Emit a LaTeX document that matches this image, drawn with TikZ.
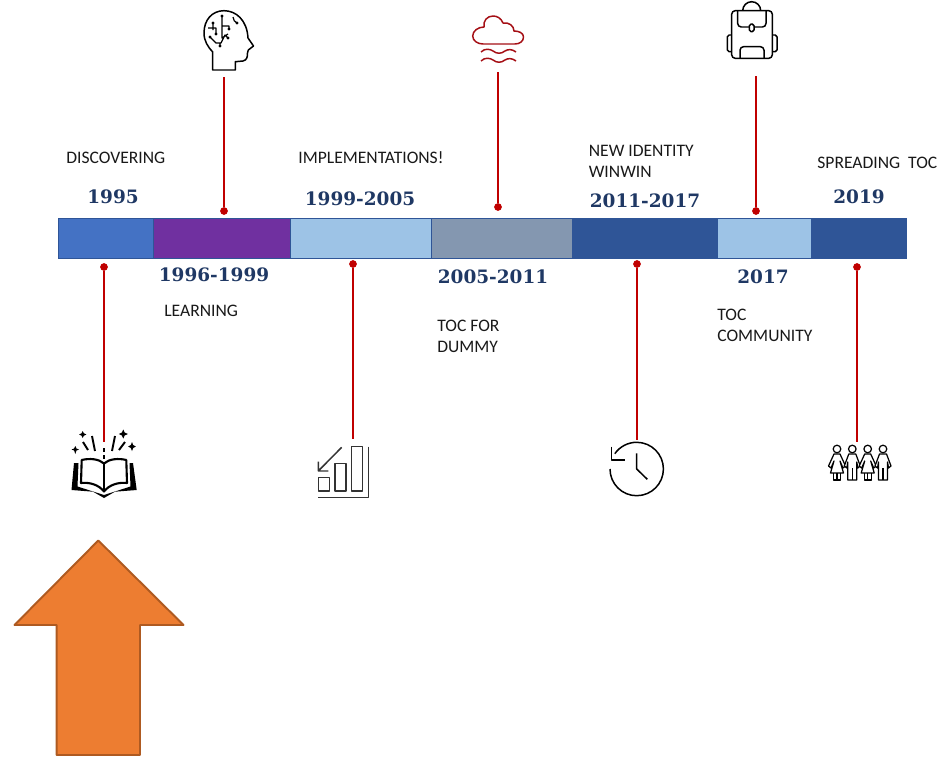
\documentclass[tikz,border=0pt]{standalone}
\usepackage{fontspec}
\setmainfont{Carlito}
\newfontfamily\yearfont{DejaVu Serif}[BoldFont={DejaVu Serif Bold}]
\definecolor{barblue}{HTML}{4472C4}
\definecolor{barpurple}{HTML}{7030A0}
\definecolor{barlight}{HTML}{9DC3E6}
\definecolor{bargrey}{HTML}{8497B0}
\definecolor{bardark}{HTML}{2F5597}
\definecolor{yearblue}{HTML}{1F3864}
\definecolor{linered}{HTML}{C00000}
\definecolor{cloudred}{HTML}{A50F15}
\definecolor{arroworange}{HTML}{ED7D31}
\definecolor{arrowedge}{HTML}{AE5A21}
\tikzset{
  segment/.style={draw=bardark,line width=0.4pt},
  year/.style={font=\yearfont\bfseries\fontsize{10.5}{12}\selectfont,text=yearblue,anchor=center},
  label/.style={font=\fontsize{10}{11.9}\selectfont,text=black!90,anchor=west,align=left},
  dot/.style={circle,fill=linered,minimum size=4.4pt},
  stem/.style={draw=linered,line width=1.5pt},
  icon/.style={draw=black,line width=0.85pt,line join=round},
  woman/.pic={
    \draw [icon,line width=0.7pt] (0,-449) circle (3.8);
    \draw [icon,line width=0.7pt,fill=white] (-3,-454) -- (3,-454) -- (8.5,-466) -- (6,-468) -- (3,-461) -- (6.5,-473) -- (-6.5,-473) -- (-3,-461) -- (-6,-468) -- (-8.5,-466) -- cycle;
    \draw [icon,line width=0.7pt] (-3.5,-473) -- (-3.5,-480) -- (3.5,-480) -- (3.5,-473) (0,-473) -- (0,-480);
  },
  man/.pic={
    \draw [icon,line width=0.7pt] (0,-449) circle (3.8);
    \draw [icon,line width=0.7pt,fill=white] (-3.5,-454) -- (3.5,-454) -- (8,-466) -- (5.5,-468) -- (4.5,-462) -- (4.5,-480) -- (-4.5,-480) -- (-4.5,-462) -- (-5.5,-468) -- (-8,-466) -- cycle;
    \draw [icon,line width=0.7pt] (0,-468) -- (0,-480);
  }
}
\begin{document}
\begin{tikzpicture}[x=0.02cm,y=0.02cm]
                      \tikzstyle{every node}+=[inner sep=0pt]
                      \useasboundingbox (0,0) rectangle (948,-764);
                      % bar
                      \draw [segment,fill=barblue] (58,-218) rectangle (153,-258);
                      \draw [segment,fill=barpurple] (153,-218) rectangle (290,-258);
                      \draw [segment,fill=barlight] (290,-218) rectangle (431,-258);
                      \draw [segment,fill=bargrey] (431,-218) rectangle (572,-258);
                      \draw [segment,fill=bardark] (572,-218) rectangle (717,-258);
                      \draw [segment,fill=barlight] (717,-218) rectangle (811,-258);
                      \draw [segment,fill=bardark] (811,-218) rectangle (906,-258);
                      % years
                      \node [year] (y1995) at (113,-197) {1995};
                      \node [year] (y1996) at (214,-275) {1996-1999};
                      \node [year] (y1999) at (360,-199) {1999-2005};
                      \node [year] (y2005) at (493,-277) {2005-2011};
                      \node [year] (y2011) at (645,-201) {2011-2017};
                      \node [year] (y2017) at (763,-277) {2017};
                      \node [year] (y2019) at (859,-197) {2019};
                      % labels
                      \node [label] (discovering) at (66,-157.5) {DISCOVERING};
                      \node [label] (learning) at (164,-311) {LEARNING};
                      \node [label] (implementations) at (298,-157.5) {IMPLEMENTATIONS!};
                      \node [label] (dummy) at (437,-336.5) {TOC FOR\\DUMMY};
                      \node [label] (identity) at (588.5,-161.5) {NEW IDENTITY\\WINWIN};
                      \node [label] (community) at (717,-325.5) {TOC\\COMMUNITY};
                      \node [label] (spreading) at (817,-163) {SPREADING\ \ TOC};
                      % stems
                      \node [dot] (dotbook) at (104,-267) {};
                      \node [dot] (dothead) at (224,-211) {};
                      \node [dot] (dotchart) at (353,-264) {};
                      \node [dot] (dotcloud) at (498,-207) {};
                      \node [dot] (dotclock) at (637,-264) {};
                      \node [dot] (dotbag) at (756,-211) {};
                      \node [dot] (dotpeople) at (857,-267) {};
                      \coordinate (endbook) at (104,-442);
                      \coordinate (endhead) at (224,-77);
                      \coordinate (endchart) at (353,-439);
                      \coordinate (endcloud) at (498,-72);
                      \coordinate (endclock) at (637,-440);
                      \coordinate (endbag) at (756,-76);
                      \coordinate (endpeople) at (857,-442);
                      \draw [stem] (dotbook) -- (endbook);
                      \draw [stem] (dothead) -- (endhead);
                      \draw [stem] (dotchart) -- (endchart);
                      \draw [stem] (dotcloud) -- (endcloud);
                      \draw [stem] (dotclock) -- (endclock);
                      \draw [stem] (dotbag) -- (endbag);
                      \draw [stem] (dotpeople) -- (endpeople);
                      % head
                      \draw [icon] (212.7,-70) -- (235.3,-70) -- (235.3,-61.7) -- (243,-61) .. controls (247,-60) and (247.5,-57) .. (247.5,-53) -- (248.3,-50) -- (253.5,-46) -- (248,-38) .. controls (247,-20) and (236,-10.7) .. (224,-10.7) .. controls (212,-10.7) and (204,-20) .. (204,-33) .. controls (204,-41) and (208,-47) .. (212.7,-52) -- cycle;
                      \draw [icon,line width=0.7pt] (222,-16) -- (222,-38) -- (228,-34) (222,-26) -- (229,-26) -- (229,-29) (213,-23) -- (213,-30) (208,-28) -- (216,-28) -- (216,-34) (210,-37) -- (216,-43) -- (221,-43) -- (225,-35) -- (228,-38) (220,-46) -- (220,-43) (233,-17) .. controls (233,-20) and (235,-22) .. (237,-23);
                      \fill (222,-16) circle (1.6) (213,-23) circle (1.6) (216,-34) circle (1.6) (210,-37) circle (1.6) (228,-38) circle (1.6) (220,-46) circle (1.6) (229,-29) circle (1.6) (237,-23) circle (1.6);
                      % cloud
                      \draw [icon,draw=cloudred] (483,-44) -- (515,-44) .. controls (520,-44) and (523.5,-41) .. (523.5,-37) .. controls (523.5,-33) and (519,-31) .. (514,-31) .. controls (514,-26) and (509,-22) .. (503,-23) .. controls (501,-18) and (497,-16) .. (493,-16) .. controls (487,-16) and (483,-21) .. (484,-27) .. controls (478,-27) and (472.7,-31) .. (472.7,-36) .. controls (472.7,-41) and (478,-44) .. (483,-44) -- cycle;
                      \draw [icon,draw=cloudred] (481,-52) .. controls (485,-48) and (490,-49) .. (493,-51) .. controls (497,-54) and (501,-54) .. (505,-51) .. controls (508,-49) and (512,-49) .. (516,-52);
                      \draw [icon,draw=cloudred] (481,-61) .. controls (485,-57) and (490,-58) .. (493,-60) .. controls (497,-63) and (501,-63) .. (505,-60) .. controls (508,-58) and (512,-58) .. (516,-61);
                      % backpack
                      \draw [icon,rounded corners=2pt] (731.7,-10.7) rectangle (772.3,-58.3);
                      \draw [icon] (742.7,-10.7) arc (180:0:9);
                      \draw [icon,rounded corners=2pt] (737.7,-10.7) -- (737.7,-27) -- (766,-27) -- (766,-10.7);
                      \draw [icon,fill=white,rounded corners=1pt] (749.3,-24) rectangle (754,-31.7);
                      \draw [icon,rounded corners=2pt] (740,-58.3) -- (740,-46.7) -- (764,-46.7) -- (764,-58.3);
                      \draw [icon,rounded corners=1pt] (731.7,-35) -- (727.3,-35) -- (727.3,-51.7) -- (731.7,-51.7);
                      \draw [icon,rounded corners=1pt] (772.3,-35) -- (777,-35) -- (777,-51.7) -- (772.3,-51.7);
                      % book
                      \fill [black] (74,-463) -- (71.5,-490) -- (93,-491.7) -- (104,-498) -- (115,-491.7) -- (136.7,-490) -- (133,-463) -- (129.5,-463) -- (130.5,-486.5) -- (104,-495) -- (77.5,-486.5) -- (78.5,-463) -- cycle;
                      \draw [icon,line width=1.2pt,fill=white] (81.7,-460) .. controls (90,-458) and (99,-459) .. (104,-463.5) .. controls (109,-459) and (118,-458) .. (126.3,-460) -- (127,-483) .. controls (118,-482) and (109,-485) .. (104,-491.5) .. controls (99,-485) and (90,-482) .. (81,-483) -- cycle;
                      \draw [icon,line width=1.1pt] (104,-463.5) -- (104,-491.5);
                      \draw [icon,line width=1.1pt] (104,-448) -- (104,-452) (104,-455) -- (104,-459);
                      \draw [icon,line width=1.1pt] (83,-442) -- (88,-450) (92,-436) -- (95,-451) (115,-436) -- (112,-451) (125,-442) -- (119,-450);
                      \fill [black] (82.7,-431) -- (83.9,-433.3) -- (86.4,-434.5) -- (83.9,-435.7) -- (82.7,-438) -- (81.5,-435.7) -- (79,-434.5) -- (81.5,-433.3) -- cycle;
                      \fill [black] (75.3,-446) -- (76.5,-448.5) -- (79,-449.5) -- (76.5,-450.5) -- (75.3,-454) -- (74.1,-450.5) -- (71.6,-449.5) -- (74.1,-448.5) -- cycle;
                      \fill [black] (123.3,-429.5) -- (124.7,-432.5) -- (127.8,-434) -- (124.7,-435.5) -- (123.3,-438.5) -- (121.9,-435.5) -- (118.8,-434) -- (121.9,-432.5) -- cycle;
                      \fill [black] (132,-442) -- (133.2,-445) -- (135.8,-446.5) -- (133.2,-448) -- (132,-451) -- (130.8,-448) -- (128.2,-446.5) -- (130.8,-445) -- cycle;
                      % chart
                      \draw [icon,draw=black!80] (368.3,-446.7) -- (368.3,-497.3) -- (318.3,-497.3);
                      \draw [icon,draw=black!80] (318.3,-477.7) rectangle (329.3,-491);
                      \draw [icon,draw=black!80] (335,-463.3) rectangle (346,-491);
                      \draw [icon,draw=black!80] (351.7,-446.7) rectangle (362.7,-491);
                      \draw [icon,draw=black!80] (341.7,-447.3) -- (318.3,-471) (318.3,-461.7) -- (318.3,-471) -- (328.3,-471);
                      % clock
                      \draw [icon] (610,-469) arc (180:505:26.7);
                      \draw [icon] (611.7,-446.7) -- (611.7,-460) -- (625,-460);
                      \draw [icon] (636.7,-453.3) -- (636.7,-469) -- (647.3,-479.3);
                      % people
                      \pic at (837,0) {woman};
                      \pic at (852.3,0) {man};
                      \pic at (867.7,0) {woman};
                      \pic at (883,0) {man};
                      % arrow
                      \draw [draw=arrowedge,line width=1.1pt,fill=arroworange,line join=round] (98.3,-540.5) -- (183.5,-625) -- (140,-625) -- (140,-755) -- (56.7,-755) -- (56.7,-625) -- (14.5,-625) -- cycle;
                  \end{tikzpicture}
\end{document}
